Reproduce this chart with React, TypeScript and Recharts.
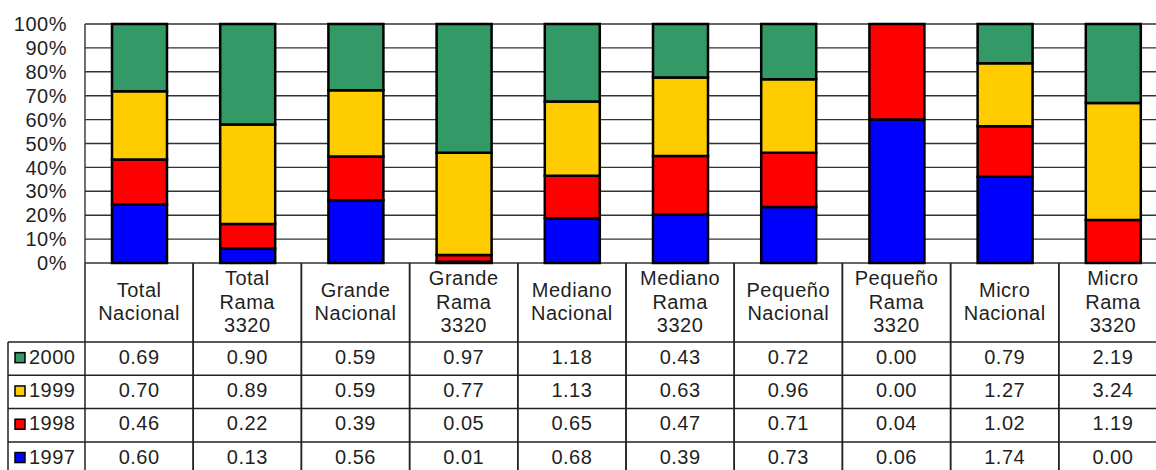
import { BarChart, Bar, XAxis, YAxis, CartesianGrid } from "recharts"

const categories = [
  "Total Nacional",
  "Total Rama 3320",
  "Grande Nacional",
  "Grande Rama 3320",
  "Mediano Nacional",
  "Mediano Rama 3320",
  "Pequeño Nacional",
  "Pequeño Rama 3320",
  "Micro Nacional",
  "Micro Rama 3320",
]

const s1997 = [0.6, 0.13, 0.56, 0.01, 0.68, 0.39, 0.73, 0.06, 1.74, 0.0]
const s1998 = [0.46, 0.22, 0.39, 0.05, 0.65, 0.47, 0.71, 0.04, 1.02, 1.19]
const s1999 = [0.7, 0.89, 0.59, 0.77, 1.13, 0.63, 0.96, 0.0, 1.27, 3.24]
const s2000 = [0.69, 0.9, 0.59, 0.97, 1.18, 0.43, 0.72, 0.0, 0.79, 2.19]

const yTicks = [0, 0.1, 0.2, 0.3, 0.4, 0.5, 0.6, 0.7, 0.8, 0.9, 1]

// top of table first, like the original
const tableRows = [
  { year: "2000", values: s2000, color: "#339966" },
  { year: "1999", values: s1999, color: "#FFCC00" },
  { year: "1998", values: s1998, color: "#FF0000" },
  { year: "1997", values: s1997, color: "#0000FF" },
]

const chartData = categories.map((name, i) => ({
  name,
  y1997: s1997[i],
  y1998: s1998[i],
  y1999: s1999[i],
  y2000: s2000[i],
}))

const font = "'Liberation Sans', Arial, sans-serif"
const textColor = "#1f1f1f"
const lineColor = "#222"

const plotLeft = 85
const plotRight = 1167
const bandW = (plotRight - plotLeft) / categories.length
const headerBottom = 342
const rowH = 33.3
const tableBottom = 480
const legendLeft = 8

function TableColumn(props: any) {
  const { x, y, payload, index } = props
  const left = x - bandW / 2
  const right = x + bandW / 2
  const lines = String(payload.value).split(" ")
  const lh = 23.5
  const mid = (y + headerBottom) / 2 - 1
  const first = mid - ((lines.length - 1) * lh) / 2

  return (
    <g>
      <line x1={left} y1={y} x2={left} y2={tableBottom} stroke={lineColor} strokeWidth={1.5} />
      <line x1={right} y1={y} x2={right} y2={tableBottom} stroke={lineColor} strokeWidth={1.5} />
      {lines.map((l, i) => (
        <text
          key={i}
          x={x}
          y={first + i * lh}
          textAnchor="middle"
          dominantBaseline="central"
          fontSize={20}
          letterSpacing={0.5}
          fontFamily={font}
          fill={textColor}
        >
          {l}
        </text>
      ))}
      {tableRows.map((r, ri) => {
        const top = headerBottom + ri * rowH
        return (
          <g key={r.year}>
            <line x1={left} y1={top} x2={right} y2={top} stroke={lineColor} strokeWidth={1.5} />
            <text
              x={x}
              y={top + rowH / 2 - 2}
              textAnchor="middle"
              dominantBaseline="central"
              fontSize={20}
              letterSpacing={0.5}
              fontFamily={font}
              fill={textColor}
            >
              {r.values[index].toFixed(2)}
            </text>
          </g>
        )
      })}
      {index === 0 && (
        <g>
          <line x1={legendLeft} y1={headerBottom} x2={legendLeft} y2={tableBottom} stroke={lineColor} strokeWidth={1.5} />
          {tableRows.map((r, ri) => {
            const top = headerBottom + ri * rowH
            return (
              <g key={r.year}>
                <line x1={legendLeft} y1={top} x2={left} y2={top} stroke={lineColor} strokeWidth={1.5} />
                <rect x={15} y={top + rowH / 2 - 6} width={10} height={10} fill={r.color} stroke="#000" strokeWidth={1.5} />
                <text
                  x={29}
                  y={top + rowH / 2 - 2}
                  dominantBaseline="central"
                  fontSize={20}
                  letterSpacing={0.5}
                  fontFamily={font}
                  fill={textColor}
                >
                  {r.year}
                </text>
              </g>
            )
          })}
        </g>
      )}
    </g>
  )
}

export default function App() {
  return (
    <div style={{ position: "absolute", left: 0, top: 0, width: 1156, height: 470, overflow: "hidden", background: "#fff" }}>
      <BarChart
        width={1170}
        height={470}
        data={chartData}
        stackOffset="expand"
        barSize={55}
        margin={{ top: 24, right: 1170 - plotRight, left: 0, bottom: 0 }}
      >
        <CartesianGrid vertical={false} stroke="#333" strokeWidth={1.4} />
        <XAxis
          dataKey="name"
          height={470 - 263}
          interval={0}
          tickLine={false}
          axisLine={false}
          tickSize={0}
          tickMargin={0}
          tick={<TableColumn />}
        />
        <YAxis
          width={plotLeft}
          ticks={yTicks}
          domain={[0, 1]}
          interval={0}
          tickFormatter={(v) => `${Math.round(v * 100)}%`}
          tickLine={false}
          tickSize={0}
          tickMargin={18}
          axisLine={{ stroke: "#333", strokeWidth: 1.4 }}
          tick={{ fill: textColor, fontSize: 20, fontFamily: font, letterSpacing: 0.5 }}
        />
        <Bar dataKey="y1997" stackId="a" fill="#0000FF" stroke="#000" strokeWidth={2.5} isAnimationActive={false} />
        <Bar dataKey="y1998" stackId="a" fill="#FF0000" stroke="#000" strokeWidth={2.5} isAnimationActive={false} />
        <Bar dataKey="y1999" stackId="a" fill="#FFCC00" stroke="#000" strokeWidth={2.5} isAnimationActive={false} />
        <Bar dataKey="y2000" stackId="a" fill="#339966" stroke="#000" strokeWidth={2.5} isAnimationActive={false} />
      </BarChart>
    </div>
  )
}
